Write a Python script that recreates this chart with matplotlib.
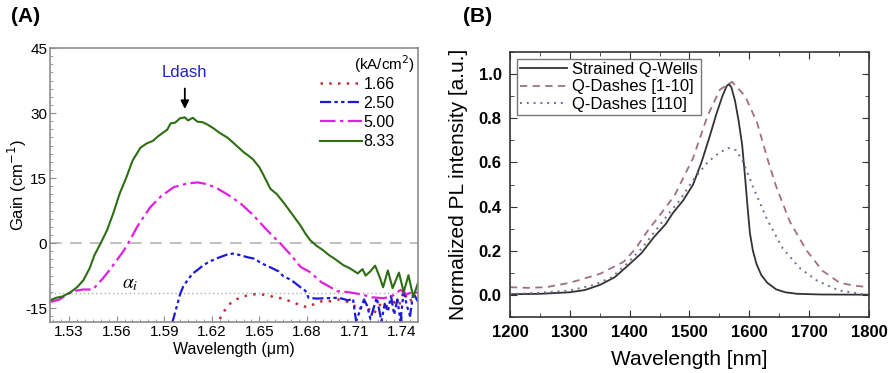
import matplotlib.pyplot as plt
from matplotlib.ticker import MultipleLocator

plt.rcParams['font.family'] = ['Liberation Sans', 'DejaVu Sans']
plt.rcParams['axes.unicode_minus'] = False

# ---- (A) modal gain spectra at several current densities ----
green_wl = [1.518, 1.522, 1.526, 1.531, 1.535, 1.539, 1.543, 1.546, 1.550, 1.554,
            1.558, 1.562, 1.566, 1.570, 1.575, 1.579, 1.583, 1.586, 1.589, 1.592,
            1.594, 1.597, 1.600, 1.603, 1.605, 1.608, 1.611, 1.614, 1.617, 1.621,
            1.625, 1.630, 1.634, 1.637, 1.640, 1.643, 1.646, 1.650, 1.653, 1.657,
            1.661, 1.666, 1.670, 1.673, 1.676, 1.679, 1.682, 1.686, 1.690, 1.694,
            1.697, 1.700, 1.703, 1.707, 1.710, 1.712, 1.715, 1.717, 1.720, 1.723,
            1.726, 1.728, 1.731, 1.734, 1.738, 1.741, 1.744, 1.747, 1.750]
green_gain = [-13.2, -12.6, -12.3, -11.3, -10.2, -8.6, -5.8, -2.8, 0.0, 3.0,
              7.0, 11.5, 15.0, 19.0, 22.0, 23.0, 23.6, 24.6, 25.4, 26.2,
              27.6, 27.8, 28.8, 29.0, 28.3, 28.9, 28.0, 27.9, 27.4, 26.5,
              25.4, 24.3, 23.0, 22.0, 21.0, 20.2, 19.3, 17.5, 15.4, 12.5,
              11.3, 9.0, 7.0, 5.5, 4.0, 2.2, 0.7, -0.6, -1.6, -2.8,
              -3.5, -4.3, -5.1, -5.8, -6.5, -7.0, -6.0, -7.5, -6.5, -5.2,
              -8.0, -10.2, -6.3, -10.4, -6.8, -11.3, -7.4, -12.4, -9.2]

mag_wl = [1.518, 1.524, 1.529, 1.534, 1.539, 1.545, 1.551, 1.556, 1.560, 1.564,
          1.567, 1.573, 1.581, 1.588, 1.596, 1.604, 1.611, 1.617, 1.623, 1.630,
          1.638, 1.646, 1.653, 1.658, 1.663, 1.670, 1.676, 1.682, 1.689, 1.694,
          1.699, 1.706, 1.714, 1.721, 1.728, 1.733, 1.739, 1.743, 1.747, 1.750]
mag_gain = [-13.6, -13.0, -11.8, -11.0, -10.7, -10.7, -8.3, -6.0, -4.0, -2.0,
            -0.3, 3.8, 8.2, 10.8, 12.9, 13.7, 14.0, 13.6, 12.7, 11.2,
            9.2, 6.5, 3.7, 1.8, 0.0, -2.8, -5.5, -6.7, -9.0, -10.0,
            -11.1, -11.3, -11.8, -12.5, -12.7, -12.4, -10.8, -11.8, -11.2, -11.5]

blue_wl = [1.595, 1.598, 1.600, 1.602, 1.605, 1.608, 1.611, 1.615, 1.619, 1.624,
           1.630, 1.634, 1.638, 1.643, 1.647, 1.651, 1.657, 1.662, 1.665, 1.670,
           1.676, 1.679, 1.681, 1.686, 1.693, 1.700, 1.706, 1.709, 1.710, 1.711,
           1.713, 1.716, 1.718, 1.720, 1.722, 1.724, 1.727, 1.729, 1.731, 1.733,
           1.735, 1.737, 1.739, 1.741, 1.743, 1.745, 1.747, 1.750]
blue_gain = [-18.5, -14.5, -11.8, -10.0, -8.4, -7.0, -6.2, -5.0, -4.2, -3.4,
             -2.6, -2.4, -2.8, -3.3, -3.6, -4.6, -5.6, -6.5, -7.6, -8.5,
             -10.2, -11.0, -12.6, -12.8, -12.7, -12.6, -13.2, -12.8, -15.5, -18.0,
             -16.0, -13.0, -14.5, -17.5, -15.0, -12.6, -18.0, -14.0, -15.8, -12.2,
             -16.5, -13.0, -18.0, -11.0, -14.5, -16.8, -11.5, -13.5]

red_wl = [1.625, 1.628, 1.632, 1.636, 1.640, 1.646, 1.653, 1.659, 1.665, 1.670,
          1.675, 1.680, 1.685, 1.690, 1.695, 1.700, 1.706, 1.710, 1.713, 1.716,
          1.719, 1.722, 1.726, 1.729, 1.732, 1.735, 1.738, 1.741, 1.744, 1.747, 1.750]
red_gain = [-17.5, -15.6, -13.8, -12.9, -12.3, -11.8, -11.9, -12.4, -12.8, -13.5,
            -14.2, -14.8, -14.0, -13.3, -13.4, -13.0, -13.6, -14.5, -15.5, -13.4,
            -15.2, -16.3, -14.2, -15.0, -14.0, -13.6, -14.5, -11.2, -13.5, -12.8, -12.3]

current_labels = ['1.66', '2.50', '5.00', '8.33']
alpha_i = -11.5
ldash_peak = 1.603

# ---- (B) normalized PL spectra ----
qw_nm = [1200, 1250, 1300, 1325, 1350, 1375, 1400, 1420, 1440, 1460, 1472, 1490,
         1506, 1520, 1534, 1545, 1555, 1562, 1566, 1570, 1576, 1582, 1588, 1593,
         1597, 1601, 1606, 1612, 1620, 1630, 1645, 1660, 1680, 1720, 1800]
qw_pl = [0.003, 0.005, 0.012, 0.022, 0.045, 0.08, 0.14, 0.19, 0.26, 0.32, 0.37, 0.43,
         0.50, 0.60, 0.72, 0.82, 0.90, 0.945, 0.955, 0.94, 0.88, 0.79, 0.68, 0.53,
         0.40, 0.28, 0.20, 0.14, 0.09, 0.055, 0.025, 0.012, 0.005, 0.002, 0.001]

qd1_nm = [1200, 1230, 1260, 1300, 1350, 1390, 1410, 1430, 1450, 1475, 1506, 1530,
          1551, 1571, 1593, 1613, 1631, 1645, 1668, 1696, 1722, 1751, 1775, 1800]
qd1_pl = [0.035, 0.032, 0.035, 0.055, 0.095, 0.15, 0.21, 0.29, 0.36, 0.45, 0.62, 0.81,
          0.93, 0.965, 0.90, 0.78, 0.61, 0.49, 0.33, 0.20, 0.11, 0.055, 0.042, 0.035]

qd2_nm = [1200, 1250, 1300, 1340, 1370, 1395, 1420, 1440, 1460, 1484, 1506, 1530,
          1550, 1565, 1578, 1590, 1606, 1630, 1656, 1685, 1713, 1750, 1790, 1800]
qd2_pl = [0.004, 0.01, 0.02, 0.045, 0.08, 0.14, 0.21, 0.28, 0.35, 0.43, 0.52, 0.60,
          0.645, 0.665, 0.655, 0.60, 0.49, 0.34, 0.21, 0.12, 0.065, 0.02, 0.003, 0.002]

pl_labels = ['Strained Q-Wells', 'Q-Dashes [1-10]', 'Q-Dashes [110]']

fig = plt.figure(figsize=(8.88, 3.73), dpi=100)

# ================= panel A =================
axA = fig.add_axes([0.0563, 0.1367, 0.4144, 0.7346])
frame = '#8c8c8c'
axA.axhline(0, color='#b4b4b4', lw=1.2, dashes=(7, 5), zorder=1)
axA.axhline(alpha_i, color='#a8b8a0', lw=1.0, ls=(0, (1, 2)), zorder=1)

l1, = axA.plot(red_wl, red_gain, color='#c0303c', lw=1.8, ls=(0, (1, 2.5)))
l2, = axA.plot(blue_wl, blue_gain, color='#1a1ad8', lw=1.6, ls=(0, (5, 1.5, 1.5, 1.5, 1.5, 1.5)))
l3, = axA.plot(mag_wl, mag_gain, color='#e020e0', lw=1.6, ls=(0, (7, 2, 1.5, 2)))
l4, = axA.plot(green_wl, green_gain, color='#2e6e12', lw=1.5)

axA.set_xlim(1.518, 1.750)
axA.set_ylim(-18.2, 45)
axA.set_xticks([1.53, 1.56, 1.59, 1.62, 1.65, 1.68, 1.71, 1.74])
axA.set_yticks([-15, 0, 15, 30, 45])
axA.xaxis.set_minor_locator(MultipleLocator(0.005))
axA.yaxis.set_minor_locator(MultipleLocator(15 / 8))
axA.tick_params(which='both', direction='in', colors=frame, labelcolor='black',
                labelsize=11, pad=2)
axA.tick_params(which='major', length=4)
axA.tick_params(which='minor', length=2)
for sp in axA.spines.values():
    sp.set_color(frame)
    sp.set_linewidth(1.2)
axA.set_xlabel('Wavelength (\u03bcm)', fontsize=11.5, labelpad=2)
axA.set_ylabel('Gain (cm$^{-1}$)', fontsize=12, labelpad=-3)

axA.text(ldash_peak, 39.3, 'Ldash', color='#2222cc', fontsize=12,
         ha='center', va='center')
axA.annotate('', xy=(ldash_peak, 30.3), xytext=(ldash_peak, 36.3),
             arrowprops=dict(arrowstyle='-|>', color='black', lw=1.3,
                             mutation_scale=12))
axA.text(1.5685, -9.6, r'$\alpha_i$', fontsize=14, math_fontfamily='stix',
         ha='center', va='center')

axA.text(0.992, 0.94, '(kA/cm$^2$)', transform=axA.transAxes, fontsize=11,
         ha='right', va='center')
axA.legend([l1, l2, l3, l4], current_labels, loc='upper left',
           bbox_to_anchor=(0.735, 0.895), frameon=False, fontsize=11.5,
           handlelength=2.6, handletextpad=0.1, labelspacing=0.26,
           borderpad=0, borderaxespad=0)

fig.text(0.012, 0.955, '(A)', fontsize=15, fontweight='bold', va='center')

# ================= panel B =================
axB = fig.add_axes([0.5743, 0.1501, 0.4043, 0.7105])
axB.plot(qw_nm, qw_pl, color='#333333', lw=1.3, label=pl_labels[0])
axB.plot(qd1_nm, qd1_pl, color='#a0707e', lw=1.3, ls=(0, (4, 3)), label=pl_labels[1])
axB.plot(qd2_nm, qd2_pl, color='#7a6a8e', lw=1.4, ls=(0, (1, 2.5)), label=pl_labels[2])

axB.set_xlim(1200, 1800)
axB.set_ylim(-0.1, 1.1)
axB.set_xticks(range(1200, 1801, 100))
axB.set_yticks([0.0, 0.2, 0.4, 0.6, 0.8, 1.0])
axB.xaxis.set_minor_locator(MultipleLocator(50))
axB.yaxis.set_minor_locator(MultipleLocator(0.1))
axB.tick_params(which='both', direction='in', top=True, right=True,
                labelsize=12, pad=6, colors='#333333', labelcolor='black')
axB.tick_params(which='major', length=5)
axB.tick_params(which='minor', length=3)
for lab in axB.get_xticklabels() + axB.get_yticklabels():
    lab.set_fontweight('bold')
for sp in axB.spines.values():
    sp.set_color('#333333')
    sp.set_linewidth(1.2)
axB.set_xlabel('Wavelength [nm]', fontsize=15, labelpad=7)
axB.set_ylabel('Normalized PL intensity [a.u.]', fontsize=15, labelpad=8)
leg = axB.legend(loc='upper left', fontsize=12, handlelength=2.8,
                 handletextpad=0.3, labelspacing=0.15, borderpad=0.2,
                 borderaxespad=0.4, fancybox=False, framealpha=1)
leg.get_frame().set_edgecolor('#777777')
leg.get_frame().set_linewidth(1.0)

fig.text(0.521, 0.955, '(B)', fontsize=15, fontweight='bold', va='center')

fig.savefig('out.png', dpi=100)
